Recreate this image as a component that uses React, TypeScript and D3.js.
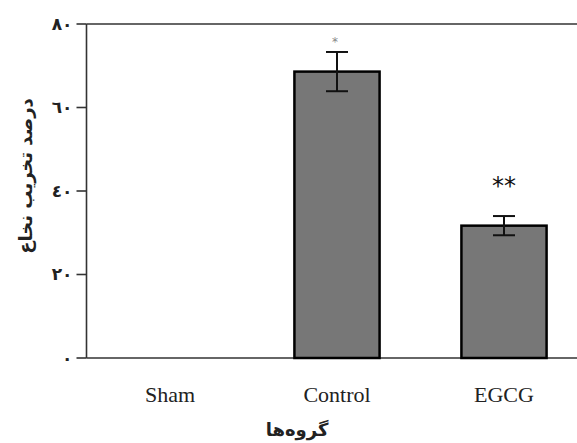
import React from "react"
import * as d3 from "d3"

const width = 577
const height = 443

const groups = ["Sham", "Control", "EGCG"]
const means = [0, 68.6, 31.7]
const errors = [0, 4.7, 2.3]
const marks = ["", "*", "**"]
const yTicks = [0, 20, 40, 60, 80]
const yTickLabels = ["٠", "٢٠", "٤٠", "٦٠", "٨٠"]

const App = () => {
  const x = d3
    .scaleBand()
    .domain(groups)
    .range([86.5, 587.5])
    .paddingInner(0.49)
    .paddingOuter(0.245)
  const y = d3.scaleLinear().domain([0, 80]).range([358, 24])
  const axisLeft = x.range()[0]
  const capHalf = 11

  return (
    <svg
      width={width}
      height={height}
      style={{ position: "absolute", left: 0, top: 0, background: "#fff" }}
    >
      {/* frame lines */}
      <line x1={axisLeft} x2={width} y1={y(80)} y2={y(80)} stroke="#333" strokeWidth={1.6} />
      <line x1={axisLeft} x2={width} y1={y(0)} y2={y(0)} stroke="#333" strokeWidth={1.6} />
      <line x1={axisLeft} x2={axisLeft} y1={y(80)} y2={y(0)} stroke="#333" strokeWidth={1.6} />

      {yTicks.map((t, i) => (
        <g key={t} transform={`translate(0, ${y(t)})`}>
          <line x1={axisLeft - 10} x2={axisLeft} stroke="#333" strokeWidth={1.6} />
          <text
            x={axisLeft - 14}
            dy="0.35em"
            textAnchor="end"
            fontFamily="DejaVu Sans"
            fontWeight="bold"
            fontSize={17}
            fill="#222"
          >
            {yTickLabels[i]}
          </text>
        </g>
      ))}

      {groups.map((g, i) => {
        const cx = x(g)! + x.bandwidth() / 2
        return (
          <g key={g}>
            {means[i] > 0 && (
              <rect
                x={x(g)}
                y={y(means[i])}
                width={x.bandwidth()}
                height={y(0) - y(means[i])}
                fill="#777"
                stroke="#000"
                strokeWidth={2.5}
              />
            )}
            {errors[i] > 0 && (
              <g stroke="#111" strokeWidth={2}>
                <line x1={cx} x2={cx} y1={y(means[i] + errors[i])} y2={y(means[i] - errors[i])} />
                <line x1={cx - capHalf} x2={cx + capHalf} y1={y(means[i] + errors[i])} y2={y(means[i] + errors[i])} />
                <line x1={cx - capHalf} x2={cx + capHalf} y1={y(means[i] - errors[i])} y2={y(means[i] - errors[i])} />
              </g>
            )}
            {marks[i] === "*" && (
              <text x={cx - 2} y={y(means[i] + errors[i]) - 6} textAnchor="middle" fontFamily="DejaVu Sans" fontSize={12} fill="#888">
                *
              </text>
            )}
            {marks[i] === "**" && (
              <text x={cx} y={y(means[i] + errors[i]) - 22} textAnchor="middle" fontFamily="DejaVu Sans" fontSize={24} fill="#111">
                **
              </text>
            )}
            <text
              x={cx}
              y={402}
              textAnchor="middle"
              fontFamily="Liberation Serif"
              fontSize={22}
              fill="#222"
            >
              {g}
            </text>
          </g>
        )
      })}

      <text
        x={297}
        y={436}
        textAnchor="middle"
        fontFamily="DejaVu Sans"
        fontWeight="bold"
        fontSize={18}
        fill="#222"
        direction="rtl"
      >
        گروه‌ها
      </text>
      <text
        transform={`translate(32, ${(y(0) + y(80)) / 2 - 15}) rotate(-90)`}
        textAnchor="middle"
        fontFamily="DejaVu Sans"
        fontWeight="bold"
        fontSize={18}
        fill="#222"
        direction="rtl"
      >
        درصد تخریب نخاع
      </text>
    </svg>
  )
}

export default App
